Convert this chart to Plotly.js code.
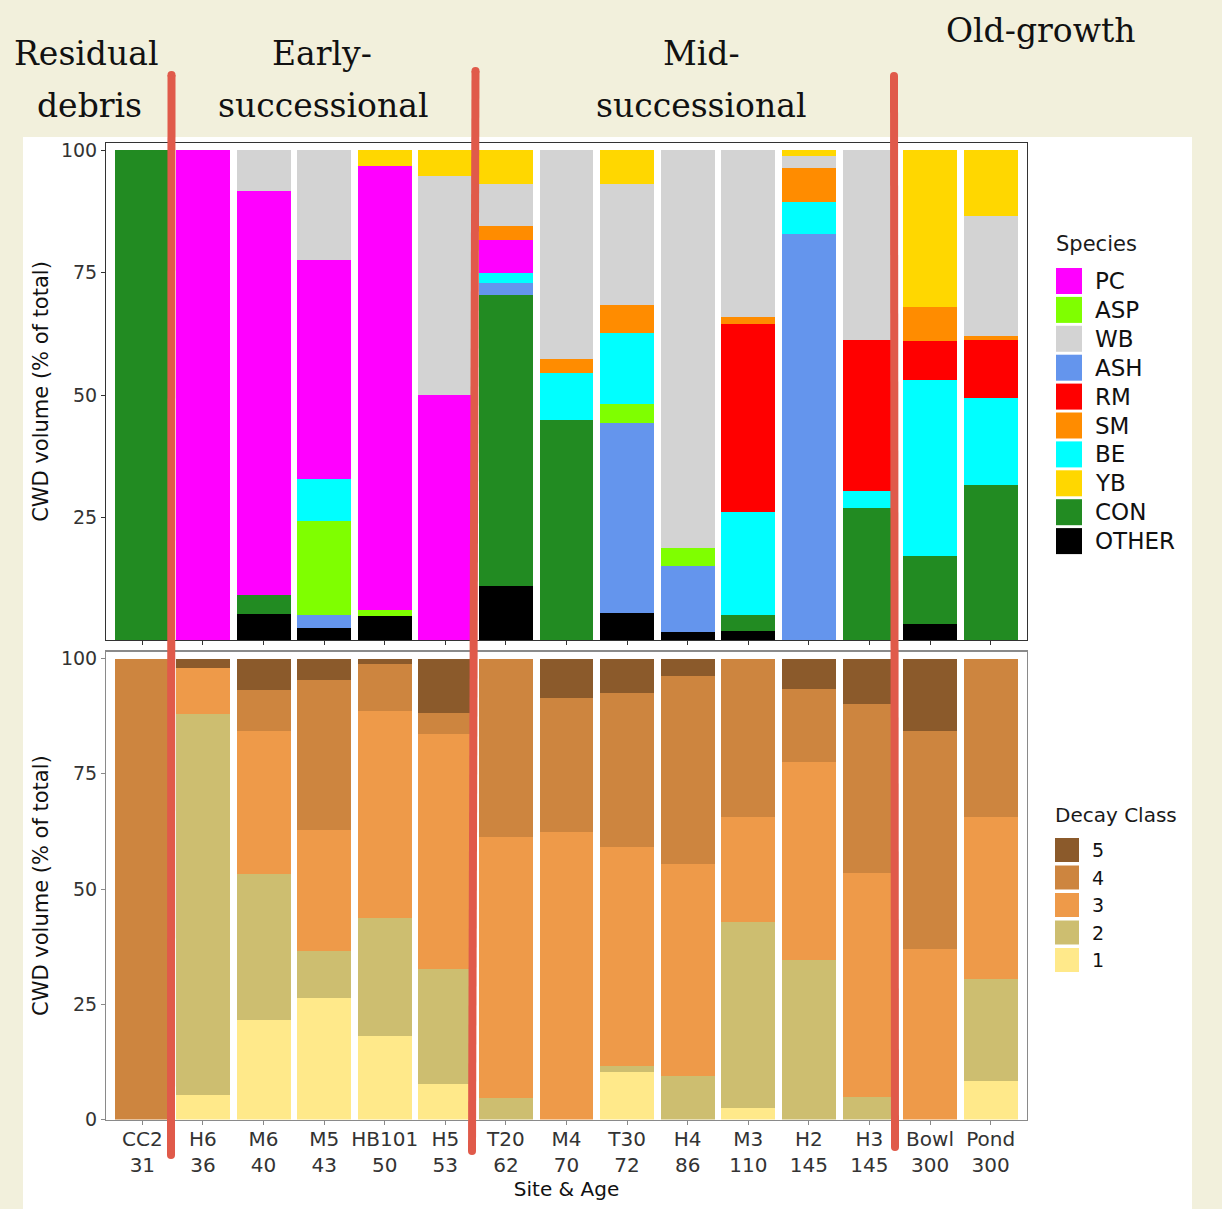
<!DOCTYPE html>
<html>
<head>
<meta charset="utf-8">
<script src="https://cdn.plot.ly/plotly-3.0.1.min.js"></script>
<style>
  html, body { margin: 0; padding: 0; background: #f2f0dc; }
  #chart { width: 1222px; height: 1209px; }
</style>
</head>
<body>
<div id="chart"></div>
<script>
// Sites ordered by stand age
const sites = ["CC2", "H6", "M6", "M5", "HB101", "H5", "T20", "M4", "T30", "H4", "M3", "H2", "H3", "Bowl", "Pond"];
const ages  = ["31", "36", "40", "43", "50", "53", "62", "70", "72", "86", "110", "145", "145", "300", "300"];

// Coarse woody debris volume by species (% of total), one value per site
const speciesOTHER = [0, 0, 5.4, 2.4, 4.9, 0, 11.1, 0, 5.5, 1.6, 1.9, 0, 0, 3.2, 0];
const speciesCON   = [100, 0, 3.8, 0, 0, 0, 59.3, 44.9, 0, 0, 3.3, 0, 26.9, 13.9, 31.7];
const speciesASH   = [0, 0, 0, 2.7, 0, 0, 2.5, 0, 38.9, 13.6, 0, 82.9, 0, 0, 0];
const speciesASP   = [0, 0, 0, 19.2, 1.3, 0, 0, 0, 3.8, 3.5, 0, 0, 0, 0, 0];
const speciesBE    = [0, 0, 0, 8.6, 0, 0, 2.1, 9.7, 14.6, 0, 20.9, 6.6, 3.5, 36.0, 17.8];
const speciesRM    = [0, 0, 0, 0, 0, 0, 0, 0, 0, 0, 38.5, 0, 30.8, 7.9, 11.7];
const speciesPC    = [0, 100, 82.6, 44.7, 90.7, 50, 6.6, 0, 0, 0, 0, 0, 0, 0, 0];
const speciesSM    = [0, 0, 0, 0, 0, 0, 3.0, 2.8, 5.6, 0, 1.3, 6.9, 0, 7.1, 0.8];
const speciesWB    = [0, 0, 8.2, 22.4, 0, 44.8, 8.5, 42.6, 24.7, 81.3, 34.1, 2.5, 38.8, 0, 24.5];
const speciesYB    = [0, 0, 0, 0, 3.1, 5.2, 6.9, 0, 6.9, 0, 0, 1.1, 0, 31.9, 13.5];

// Coarse woody debris volume by decay class (% of total)
const decay1 = [0, 5.3, 21.5, 26.4, 18.1, 7.6, 0, 0, 10.4, 0, 2.4, 0, 0, 0, 8.4];
const decay2 = [0, 82.7, 31.8, 10.2, 25.6, 25.0, 4.7, 0, 1.3, 9.4, 40.4, 34.6, 4.9, 0, 22.0];
const decay3 = [0, 10.0, 31.0, 26.3, 45.0, 51.0, 56.5, 62.3, 47.4, 46.1, 22.9, 43.0, 48.5, 36.9, 35.2];
const decay4 = [100, 0, 8.9, 32.4, 10.1, 4.7, 38.8, 29.1, 33.5, 40.7, 34.3, 15.8, 36.7, 47.4, 34.4];
const decay5 = [0, 2.0, 6.8, 4.7, 1.2, 11.7, 0, 8.6, 7.4, 3.8, 0, 6.6, 9.9, 15.7, 0];

// Legend order and colours
const speciesNames  = ["PC", "ASP", "WB", "ASH", "RM", "SM", "BE", "YB", "CON", "OTHER"];
const speciesColors = ["#ff00ff", "#7fff00", "#d3d3d3", "#6495ed", "#ff0000", "#ff8c00", "#00ffff", "#ffd700", "#228b22", "#000000"];
const decayNames  = ["5", "4", "3", "2", "1"];
const decayColors = ["#8b5a2b", "#cd853f", "#ee9a49", "#cdbe70", "#ffe98a"];

// Successional stage headings
const stageLines = [
  { text: "Residual", cx: 86, cy: 54 },
  { text: "debris", cx: 89, cy: 105 },
  { text: "Early-", cx: 322, cy: 54 },
  { text: "successional", cx: 323, cy: 105 },
  { text: "Mid-", cx: 701, cy: 54 },
  { text: "successional", cx: 701, cy: 105 },
  { text: "Old-growth", cx: 1040, cy: 30 }
];

const W = 1222, H = 1209;
const px = x => x / W;
const py = y => 1 - y / H;

const speciesValues = {
  OTHER: speciesOTHER, CON: speciesCON, ASH: speciesASH, ASP: speciesASP, BE: speciesBE,
  RM: speciesRM, PC: speciesPC, SM: speciesSM, WB: speciesWB, YB: speciesYB
};
// stacking order, bottom to top
const speciesStack = ["OTHER", "CON", "ASH", "ASP", "BE", "RM", "PC", "SM", "WB", "YB"];
const decayValues = { "1": decay1, "2": decay2, "3": decay3, "4": decay4, "5": decay5 };
const decayStack = ["1", "2", "3", "4", "5"];

const xLabels = sites.map((s, i) => s + "<br>" + ages[i]);

const traces = [];
speciesStack.forEach(name => {
  traces.push({
    type: "bar", name: name, x: sites, y: speciesValues[name],
    xaxis: "x", yaxis: "y",
    marker: { color: speciesColors[speciesNames.indexOf(name)], line: { width: 0 } },
    showlegend: false, hoverinfo: "x+y+name"
  });
});
decayStack.forEach(name => {
  traces.push({
    type: "bar", name: name, x: sites, y: decayValues[name],
    xaxis: "x2", yaxis: "y2",
    marker: { color: decayColors[decayNames.indexOf(name)], line: { width: 0 } },
    showlegend: false, hoverinfo: "x+y+name"
  });
});

const xDomain = [px(106), px(1027)];
const tickFont = { family: "DejaVu Sans, sans-serif", size: 19, color: "#333333" };
const titleFont = { family: "DejaVu Sans, sans-serif", size: 21, color: "#111111" };

function yAxis(domain, lineColor, ticks) {
  return {
    domain: domain, range: [0, 101.5], tickvals: ticks,
    ticks: "outside", ticklen: 4, tickcolor: lineColor, tickfont: tickFont,
    showgrid: false, zeroline: false, showline: true, mirror: true,
    linecolor: lineColor, linewidth: 1,
    title: { text: "CWD volume (% of total)", font: titleFont, standoff: 6 },
    automargin: false, fixedrange: true
  };
}

const layout = {
  width: W, height: H,
  margin: { l: 0, r: 0, t: 0, b: 0 },
  paper_bgcolor: "#f2f0dc",
  plot_bgcolor: "#ffffff",
  barmode: "stack",
  bargap: 0.11,
  showlegend: false,
  font: { family: "DejaVu Sans, sans-serif", color: "#111111" },
  xaxis: {
    domain: xDomain, anchor: "y", range: [-0.6, 14.6],
    type: "category", categoryorder: "array", categoryarray: sites,
    showticklabels: false, ticks: "outside", ticklen: 4, tickcolor: "#333333",
    showline: true, mirror: true, linecolor: "#333333", linewidth: 1,
    showgrid: false, zeroline: false, automargin: false, fixedrange: true
  },
  yaxis: yAxis([py(640), py(143)], "#333333", [25, 50, 75, 100]),
  xaxis2: {
    domain: xDomain, anchor: "y2", range: [-0.6, 14.6],
    type: "category", categoryorder: "array", categoryarray: sites,
    tickmode: "array", tickvals: sites, ticktext: xLabels,
    tickfont: { family: "DejaVu Sans, sans-serif", size: 20, color: "#333333" },
    ticklabelstandoff: -3,
    ticks: "outside", ticklen: 4, tickcolor: "#888888",
    showline: true, mirror: true, linecolor: "#8a8a8a", linewidth: 1.5,
    showgrid: false, zeroline: false, automargin: false, fixedrange: true,
    title: { text: "Site & Age", font: { family: "DejaVu Sans, sans-serif", size: 20, color: "#111111" }, standoff: 2 }
  },
  yaxis2: yAxis([py(1119.5), py(651.7)], "#8a8a8a", [0, 25, 50, 75, 100]),
  shapes: [],
  annotations: []
};

// white backing panel behind the two charts
layout.shapes.push({
  type: "rect", xref: "paper", yref: "paper", layer: "below",
  x0: px(23), x1: px(1192), y0: py(1215), y1: py(137),
  fillcolor: "#ffffff", line: { width: 0 }
});

// custom legends with large swatches
function addLegend(title, names, colors, x0, titleY, firstY, pitch, box, labelX, titleSize, labelSize) {
  layout.annotations.push({
    xref: "paper", yref: "paper", x: px(x0 - 2), y: py(titleY), xanchor: "left", yanchor: "middle",
    text: title, showarrow: false, font: { family: "DejaVu Sans, sans-serif", size: titleSize, color: "#1a1a1a" }
  });
  names.forEach((n, i) => {
    const cy = firstY + i * pitch;
    layout.shapes.push({
      type: "rect", xref: "paper", yref: "paper", layer: "above",
      x0: px(x0), x1: px(x0 + box), y0: py(cy + box / 2), y1: py(cy - box / 2),
      fillcolor: colors[i], line: { width: 0 }
    });
    layout.annotations.push({
      xref: "paper", yref: "paper", x: px(labelX), y: py(cy), xanchor: "left", yanchor: "middle",
      text: n, showarrow: false, font: { family: "DejaVu Sans, sans-serif", size: labelSize, color: "#111111" }
    });
  });
}
addLegend("Species", speciesNames, speciesColors, 1056, 244, 281, 28.9, 26, 1093, 21, 23);
addLegend("Decay Class", decayNames, decayColors, 1055, 815, 850, 27.5, 24, 1090, 20, 19);

// stage headings
stageLines.forEach(s => {
  layout.annotations.push({
    xref: "paper", yref: "paper", x: px(s.cx), y: py(s.cy), xanchor: "center", yanchor: "middle",
    text: s.text, showarrow: false,
    font: { family: "DejaVu Serif, serif", size: 33, color: "#111111" }
  });
});

// red dividers between successional stages
const dividers = [
  { xt: 171.5, yt: 75, xb: 171, yb: 1155 },
  { xt: 475.5, yt: 71, xb: 472, yb: 1151 },
  { xt: 894, yt: 76, xb: 895, yb: 1147 }
];
const red = "#e05a4a", lw = 8;
dividers.forEach(d => {
  layout.shapes.push({
    type: "line", xref: "paper", yref: "paper", layer: "above",
    x0: px(d.xt), y0: py(d.yt), x1: px(d.xb), y1: py(d.yb),
    line: { color: red, width: lw }
  });
  [[d.xt, d.yt], [d.xb, d.yb]].forEach(([cx, cy]) => {
    layout.shapes.push({
      type: "circle", xref: "paper", yref: "paper", layer: "above",
      x0: px(cx - lw / 2), x1: px(cx + lw / 2), y0: py(cy + lw / 2), y1: py(cy - lw / 2),
      fillcolor: red, line: { width: 0 }
    });
  });
});

Plotly.newPlot("chart", traces, layout, { displayModeBar: false, staticPlot: true });
</script>
</body>
</html>
